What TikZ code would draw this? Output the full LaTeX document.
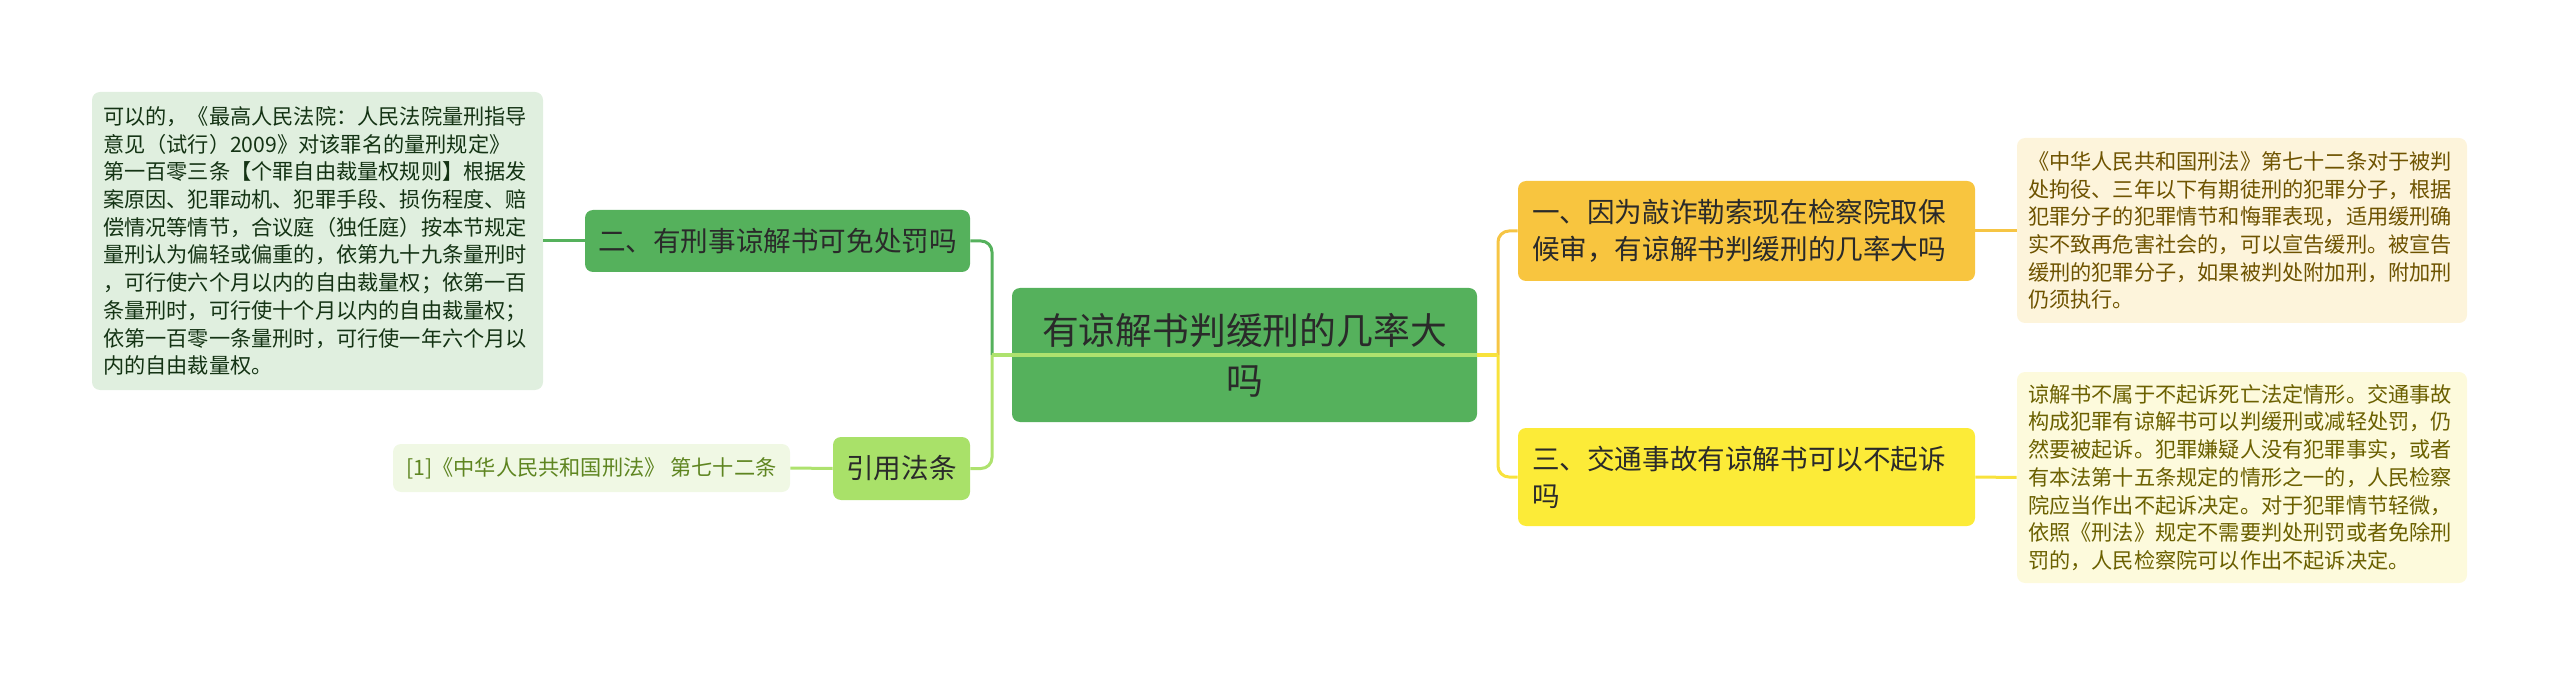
\documentclass[tikz,border=0pt]{standalone}
\usepackage{fontspec}
\newfontfamily\cjk{Noto Sans CJK SC}
\usepackage{tikz}
\usetikzlibrary{positioning}
\usepackage{xcolor}
\definecolor{rootgreen}{HTML}{55B15C}
\definecolor{citegreen}{HTML}{A9E169}
\definecolor{leafgreen}{HTML}{E0EFDF}
\definecolor{leaflime}{HTML}{F0F8E4}
\definecolor{gold}{HTML}{F8C53F}
\definecolor{lemon}{HTML}{FCEB38}
\definecolor{leafgold}{HTML}{FDF4DB}
\definecolor{leaflemon}{HTML}{FDFADC}
\definecolor{textdark}{HTML}{2A2A2A}
\tikzset{
  root/.style={fill=rootgreen, rounded corners=4pt, align=center, minimum width=232.5pt, minimum height=67pt, inner sep=0pt, text=textdark, font=\cjk\fontsize{18.4pt}{25pt}\selectfont},
  topic/.style={rounded corners=4pt, inner xsep=7pt, inner ysep=0pt, align=left, text=textdark, font=\cjk\fontsize{13.8pt}{18.5pt}\selectfont},
  leaf/.style={rounded corners=4pt, inner xsep=5.5pt, inner ysep=0pt, align=left, font=\cjk\fontsize{10.6pt}{13.85pt}\selectfont},
  link/.style={line width=1.5pt, rounded corners=5.5pt}
}
\begin{document}
\begin{tikzpicture}[x=0.5pt, y=-0.5pt]
\useasboundingbox (0,0) rectangle (2560,679);
\node[root] (root) at (1244.5,355) {有谅解书判缓刑的几率大\\吗};
\node[topic, fill=rootgreen, align=center, inner xsep=0pt, minimum width=192.5pt, minimum height=31pt] (sec2) at (777.5,241) {二、有刑事谅解书可免处罚吗};
\node[topic, fill=citegreen, align=center, inner xsep=0pt, minimum width=68.5pt, minimum height=31.5pt] (cite) at (901.5,468.5) {引用法条};
\node[topic, fill=gold, text width=214.5pt, minimum height=50pt] (sec1) at (1746.5,231) {一、因为敲诈勒索现在检察院取保\\候审，有谅解书判缓刑的几率大吗};
\node[topic, fill=lemon, text width=214.5pt, minimum height=49pt] (sec3) at (1746.5,477) {三、交通事故有谅解书可以不起诉\\吗};
\node[leaf, fill=leafgreen, text=textdark!80!green!60!black, text width=214.5pt, minimum height=149pt] (note2) at (317.5,241) {可以的，《最高人民法院：人民法院量刑指导\\意见（试行）2009》对该罪名的量刑规定》\\第一百零三条【个罪自由裁量权规则】根据发\\案原因、犯罪动机、犯罪手段、损伤程度、赔\\偿情况等情节，合议庭（独任庭）按本节规定\\量刑认为偏轻或偏重的，依第九十九条量刑时\\，可行使六个月以内的自由裁量权；依第一百\\条量刑时，可行使十个月以内的自由裁量权；\\依第一百零一条量刑时，可行使一年六个月以\\内的自由裁量权。};
\node[leaf, fill=leaflime, text={rgb,255:red,94;green,133;blue,32}, align=center, inner xsep=0pt, minimum width=198.5pt, minimum height=24pt] (law) at (591.5,468) {[1]《中华人民共和国刑法》 第七十二条};
\node[leaf, fill=leafgold, text={rgb,255:red,110;green,83;blue,0}, text width=214pt, minimum height=92.5pt] (note1) at (2242,230.5) {《中华人民共和国刑法》第七十二条对于被判\\处拘役、三年以下有期徒刑的犯罪分子，根据\\犯罪分子的犯罪情节和悔罪表现，适用缓刑确\\实不致再危害社会的，可以宣告缓刑。被宣告\\缓刑的犯罪分子，如果被判处附加刑，附加刑\\仍须执行。};
\node[leaf, fill=leaflemon, text={rgb,255:red,107;green,96;blue,0}, text width=214pt, minimum height=105.5pt] (note3) at (2242,477.5) {谅解书不属于不起诉死亡法定情形。交通事故\\构成犯罪有谅解书可以判缓刑或减轻处罚，仍\\然要被起诉。犯罪嫌疑人没有犯罪事实，或者\\有本法第十五条规定的情形之一的，人民检察\\院应当作出不起诉决定。对于犯罪情节轻微，\\依照《刑法》规定不需要判处刑罚或者免除刑\\罚的，人民检察院可以作出不起诉决定。};
\coordinate (ljoin) at (992,355);
\coordinate (rjoin) at (1498,355);
\draw[link, draw=rootgreen] (ljoin) |- (sec2.east);
\draw[link, draw={rgb,255:red,174;green,226;blue,110}] (ljoin) |- (cite.east);
\draw[link, draw={rgb,255:red,174;green,226;blue,110}] (root.east) -- (ljoin);
\draw[link, draw={rgb,255:red,246;green,197;blue,68}] (rjoin) |- (sec1.west);
\draw[link, draw={rgb,255:red,248;green,226;blue,60}] (rjoin) |- (sec3.west);
\draw[link, draw={rgb,255:red,248;green,226;blue,60}] (root.east) -- (rjoin);
\draw[link, draw=rootgreen] (sec2.west) -- (note2.east |- sec2.west);
\draw[link, draw={rgb,255:red,174;green,226;blue,110}] (cite.west) -- (law.east);
\draw[link, draw={rgb,255:red,246;green,197;blue,68}] (sec1.east) -- (note1.west |- sec1.east);
\draw[link, draw={rgb,255:red,248;green,226;blue,60}] (sec3.east) -- (note3.west);
\end{tikzpicture}
\end{document}
